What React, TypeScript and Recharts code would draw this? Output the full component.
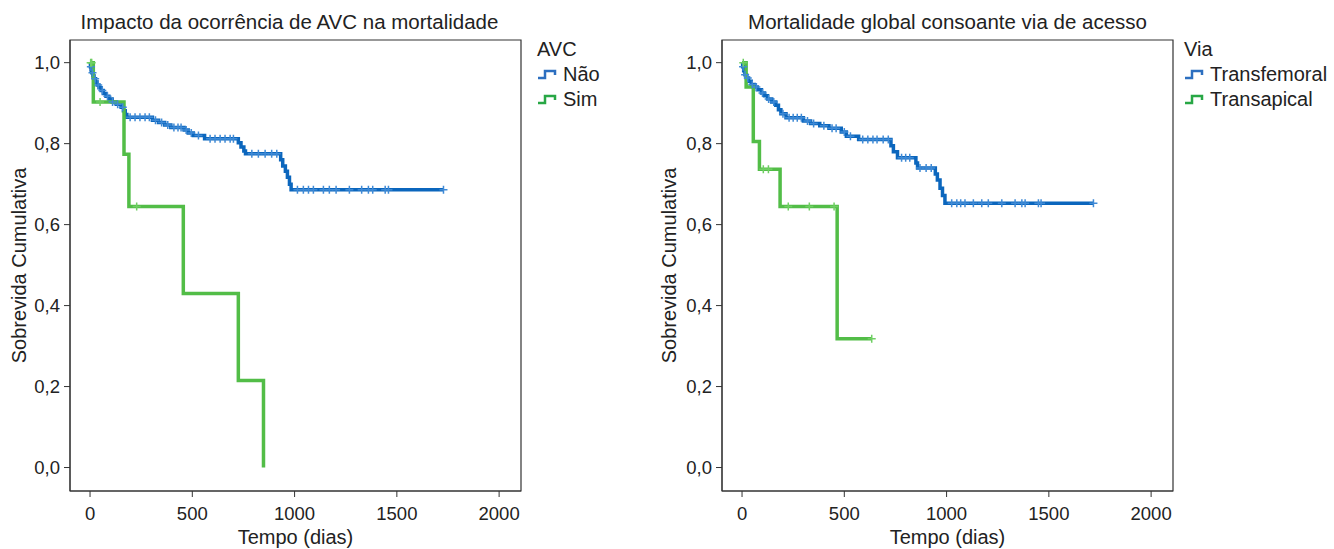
import React from 'react';
import { LineChart, Line, XAxis, YAxis, ReferenceArea, Legend, Label } from 'recharts';

const xTicks = [0, 500, 1000, 1500, 2000];
const yTicks = [0, 0.2, 0.4, 0.6, 0.8, 1.0];
const X_DOMAIN = [-98, 2107];
const Y_DOMAIN = [-0.058, 1.056];

// AVC: Não
const naoSteps = [
  [0, 1.0], [2, 0.99], [5, 0.982], [9, 0.975], [14, 0.967], [20, 0.96], [27, 0.952],
  [35, 0.945], [44, 0.938], [54, 0.931], [65, 0.924], [78, 0.917], [92, 0.91],
  [108, 0.903], [128, 0.897], [152, 0.89], [163, 0.881], [172, 0.872], [180, 0.865],
  [305, 0.858], [335, 0.852], [365, 0.846], [395, 0.84], [460, 0.834], [480, 0.826],
  [505, 0.82], [560, 0.812], [725, 0.802], [738, 0.792], [752, 0.782], [760, 0.775],
  [932, 0.76], [942, 0.745], [955, 0.732], [965, 0.717], [975, 0.7], [983, 0.686],
];
const naoCensor = [
  4, 12, 25, 40, 60, 85, 110, 135, 160, 196, 220, 244, 269, 290, 320, 350, 380, 410,
  430, 445, 470, 495, 530, 587, 611, 636, 660, 685, 701, 791, 823, 856, 888, 913,
  1014, 1043, 1068, 1092, 1141, 1170, 1203, 1268, 1328, 1361, 1382, 1443, 1459, 1728,
];

// AVC: Sim
const simSteps = [
  [0, 1.0], [16, 0.903], [166, 0.774], [190, 0.645], [456, 0.43], [725, 0.215], [848, 0],
];
const simCensor = [3, 8, 49, 228];

// Via: Transfemoral
const tfSteps = [
  [0, 1.0], [3, 0.99], [8, 0.98], [14, 0.97], [22, 0.962], [32, 0.954], [45, 0.946],
  [60, 0.94], [75, 0.933], [95, 0.925], [110, 0.918], [125, 0.91], [145, 0.903],
  [165, 0.895], [178, 0.884], [190, 0.874], [215, 0.864], [300, 0.856], [335, 0.85],
  [380, 0.844], [425, 0.838], [485, 0.829], [510, 0.818], [570, 0.81], [728, 0.795],
  [740, 0.78], [760, 0.765], [850, 0.752], [858, 0.74], [945, 0.725], [955, 0.71],
  [968, 0.69], [980, 0.672], [992, 0.653],
];
const tfCensor = [
  5, 15, 28, 50, 70, 100, 130, 155, 200, 230, 250, 270, 290, 320, 350, 400, 440, 460,
  500, 530, 590, 615, 640, 660, 690, 715, 780, 800, 820, 870, 900, 925, 1025, 1050,
  1069, 1090, 1131, 1172, 1204, 1270, 1335, 1368, 1384, 1449, 1462, 1718,
];

// Via: Transapical
const taSteps = [[0, 1.0], [20, 0.94], [55, 0.805], [85, 0.737], [186, 0.645], [465, 0.318]];
const taCensor = [6, 104, 129, 226, 329, 450, 634];

const BLUE = '#0b66bd';
const GREEN = '#52bd47';
const FONT = '"Liberation Sans", Arial, Helvetica, sans-serif';

function buildCurve(steps: number[][], censor: number[]) {
  const pts = steps.map(([t, s]) => ({ t, s, c: false }));
  censor.forEach((t) => {
    let s = steps[0][1];
    steps.forEach(([st, sv]) => {
      if (st <= t) s = sv;
    });
    pts.push({ t, s, c: true });
  });
  return pts.sort((a, b) => a.t - b.t || (a.c ? 1 : -1));
}

const fmt = (v: number) => v.toFixed(1).replace('.', ',');

const plusDot = (color: string) => (props: any) => {
  const { cx, cy, payload, index } = props;
  if (!payload || !payload.c) return <g key={index} />;
  return (
    <path
      key={index}
      d={`M${cx - 4},${cy}H${cx + 4}M${cx},${cy - 4}V${cy + 4}`}
      stroke={color}
      strokeWidth={1.5}
      fill="none"
    />
  );
};

const LegendIcon = ({ color }: { color: string }) => (
  <svg width={22} height={12} style={{ marginRight: 4 }}>
    <path d="M1,9 H8 V2 H18 V6" stroke={color} strokeWidth={2.5} fill="none" />
  </svg>
);

type Curve = { name: string; data: any[]; color: string; mark: string; icon: string };

function Panel({ left, width, plotLeft, title, titleShift, legendTitle, legendLeft, curves }: any) {
  const plotRight = plotLeft + 451;
  return (
    <div style={{ position: 'absolute', left, top: 0, width, height: 549 }}>
      <div
        style={{
          position: 'absolute', top: 11, left: plotLeft + titleShift, width: 451,
          textAlign: 'center', fontSize: 20.5, lineHeight: '21px', color: '#222', whiteSpace: 'nowrap',
        }}
      >
        {title}
      </div>
      <LineChart width={width} height={549} margin={{ top: 40, right: width - plotRight, left: 0, bottom: 0 }}>
        <XAxis
          type="number" dataKey="t" domain={X_DOMAIN} ticks={xTicks} allowDataOverflow
          height={58} tickSize={6} tickMargin={10} stroke="#333"
          tick={{ fill: '#222', fontSize: 18.5 }}
        >
          <Label value="Tempo (dias)" position="insideBottom" offset={5} style={{ fill: '#222', fontSize: 20 }} />
        </XAxis>
        <YAxis
          type="number" dataKey="s" domain={Y_DOMAIN} ticks={yTicks} allowDataOverflow
          width={plotLeft} tickSize={6} tickMargin={4} stroke="#333" tickFormatter={fmt}
          tick={{ fill: '#222', fontSize: 18.5 }}
        >
          <Label
            value="Sobrevida Cumulativa" angle={-90} position="insideLeft" offset={19}
            style={{ fill: '#222', fontSize: 20, textAnchor: 'middle' }}
          />
        </YAxis>
        <ReferenceArea
          x1={X_DOMAIN[0]} x2={X_DOMAIN[1]} y1={Y_DOMAIN[0]} y2={Y_DOMAIN[1]}
          fill="none" stroke="#333" strokeWidth={1.2}
        />
        {curves.map((c: Curve) => (
          <Line
            key={c.name} name={c.name} data={c.data} dataKey="s" type="stepAfter"
            stroke={c.color} strokeWidth={3.5} dot={plusDot(c.mark)} activeDot={false}
            isAnimationActive={false}
          />
        ))}
        <Legend
          layout="vertical" align="center" verticalAlign="middle"
          wrapperStyle={{ left: legendLeft, top: 37, width: 160 }}
          content={() => (
            <div style={{ fontSize: 20, lineHeight: '25px', color: '#222' }}>
              <div>{legendTitle}</div>
              {curves.map((c: Curve) => (
                <div key={c.name} style={{ display: 'flex', alignItems: 'center' }}>
                  <LegendIcon color={c.icon} />
                  <span>{c.name}</span>
                </div>
              ))}
            </div>
          )}
        />
      </LineChart>
    </div>
  );
}

export default function App() {
  const avcCurves: Curve[] = [
    { name: 'Não', data: buildCurve(naoSteps, naoCensor), color: BLUE, mark: '#3f8ad6', icon: '#2c6fc0' },
    { name: 'Sim', data: buildCurve(simSteps, simCensor), color: GREEN, mark: '#6fcf63', icon: '#28a745' },
  ];
  const viaCurves: Curve[] = [
    { name: 'Transfemoral', data: buildCurve(tfSteps, tfCensor), color: BLUE, mark: '#3f8ad6', icon: '#2c6fc0' },
    { name: 'Transapical', data: buildCurve(taSteps, taCensor), color: GREEN, mark: '#6fcf63', icon: '#28a745' },
  ];
  return (
    <div style={{ position: 'absolute', left: 0, top: 0, width: 1334, height: 549, background: '#fff', fontFamily: FONT }}>
      <Panel
        left={0} width={660} plotLeft={70} title="Impacto da ocorrência de AVC na mortalidade"
        titleShift={-6} legendTitle="AVC" legendLeft={537} curves={avcCurves}
      />
      <Panel
        left={650} width={684} plotLeft={72} title="Mortalidade global consoante via de acesso"
        titleShift={0} legendTitle="Via" legendLeft={534} curves={viaCurves}
      />
    </div>
  );
}
